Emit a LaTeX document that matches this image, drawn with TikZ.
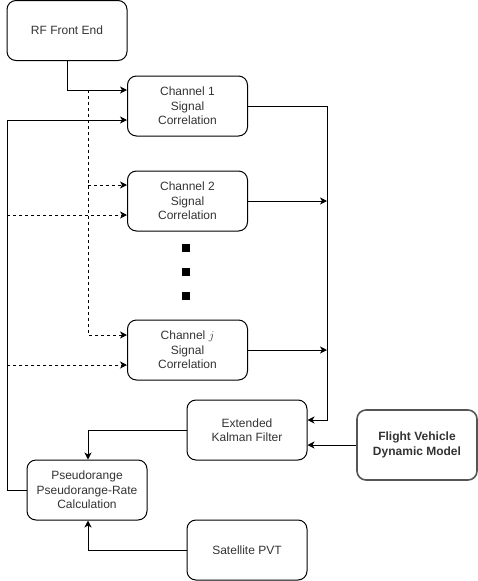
\documentclass[tikz,border=0pt]{standalone}
\usepackage{fontspec}
\setmainfont{Liberation Sans}
\usetikzlibrary{arrows.meta,calc}
\definecolor{txt}{HTML}{333333}
\definecolor{fvborder}{HTML}{555555}
\tikzset{
  blk/.style={draw=black, line width=1pt, rounded corners=9pt, minimum width=120pt, minimum height=60pt,
    align=center, text=txt, font=\fontsize{12}{14.5}\selectfont, inner sep=0pt},
  fvblk/.style={blk, draw=fvborder, line width=1.6pt, minimum height=70pt, font=\fontsize{12}{14.5}\selectfont\bfseries},
  arr/.style={line width=1pt, -{Stealth[length=7pt,width=7pt,inset=2pt]}},
  conn/.style={line width=1pt},
  dsh/.style={dash pattern=on 3pt off 3pt},
  sq/.style={fill=black, draw=none, minimum size=8pt, inner sep=0pt}
}
\begin{document}
\begin{tikzpicture}[x=1pt,y=-1pt]
\useasboundingbox (0,0) rectangle (478,581);
\node[blk] (rf) at (67,30.5) {RF Front End};
\node[blk] (ch1) at (187.5,106) {Channel 1\\Signal\\Correlation};
\node[blk] (ch2) at (187.5,201) {Channel 2\\Signal\\Correlation};
\node[blk] (chj) at (187.5,350) {Channel $j$\\Signal\\Correlation};
\node[blk] (ekf) at (247,430) {Extended\\Kalman Filter};
\node[fvblk] (fv) at (417,445) {Flight Vehicle\\Dynamic Model};
\node[blk] (pr) at (87,490) {Pseudorange\\Pseudorange-Rate\\Calculation};
\node[blk] (sat) at (247,550) {Satellite PVT};
\node[sq] (d1) at (186,248) {};
\node[sq] (d2) at (186,272) {};
\node[sq] (d3) at (186,296) {};
\coordinate (ja) at (88,90);
\coordinate (jb) at (88,185);
\coordinate (fb) at (7,490);
\coordinate (fc) at (7,215);
\coordinate (fd) at (7,365);
\coordinate (bus) at (327,420);
% RF to channels
\draw[arr] (rf.south) |- ([yshift=16pt]ch1.west);
\draw[arr,dsh] (ja) |- ([yshift=15pt]chj.west);
\draw[arr,dsh] (jb) -- ([yshift=16pt]ch2.west);
% feedback
\draw[arr] (pr.west) -- (fb) |- ([yshift=-14pt]ch1.west);
\draw[arr,dsh] (fc) -- ([yshift=-14pt]ch2.west);
\draw[arr,dsh] (fd) -- ([yshift=-15pt]chj.west);
% outputs
\draw[arr] (ch1.east) -| (bus) -- ([yshift=10pt]ekf.east);
\draw[arr] (ch2.east) -- (ch2.east -| bus);
\draw[arr] (chj.east) -- (chj.east -| bus);
\draw[arr] (fv.west) -- ([yshift=-15pt]ekf.east);
\draw[arr] (ekf.west) -| ([xshift=1pt]pr.north);
\draw[arr] (sat.west) -| ([xshift=1pt]pr.south);
\end{tikzpicture}
\end{document}
